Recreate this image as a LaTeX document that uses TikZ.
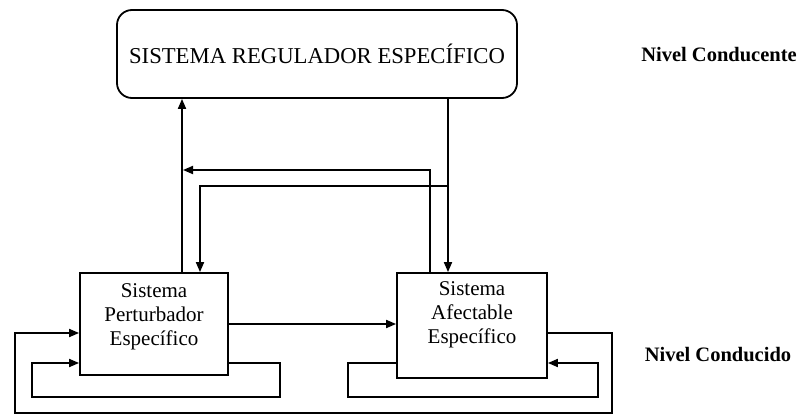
\documentclass[tikz,border=0pt]{standalone}
\usepackage{fontspec}
\setmainfont{Liberation Serif}
\usetikzlibrary{arrows.meta}
\begin{document}
\begin{tikzpicture}[x=1pt,y=-1pt,
  line width=1.8pt,
  arr/.style={-{Triangle[length=10pt,width=8pt]}},
  sysbox/.style={draw,rectangle,inner sep=0pt,align=center,font=\fontsize{21}{24}\selectfont},
  lvl/.style={font=\fontsize{20.5}{24}\selectfont\bfseries}]
\useasboundingbox (0,0) rectangle (803,415);
% nodes
\node[draw,rounded corners=15pt,minimum width=400pt,minimum height=88pt,inner sep=0pt,
  font=\fontsize{22.7}{26}\selectfont] (reg) at (317,54) {SISTEMA REGULADOR ESPECÍFICO};
\node[sysbox,minimum width=148pt,minimum height=102pt] (pert) at (154,324) {};
\node[align=center,font=\fontsize{21}{24}\selectfont] (pertt) at (154,317) {Sistema\\Perturbador\\Específico};
\node[sysbox,minimum width=150pt,minimum height=105pt] (afec) at (472,325.5) {};
\node[align=center,font=\fontsize{21}{24}\selectfont] (afect) at (472,315) {Sistema\\Afectable\\Específico};
\node[lvl] (nc1) at (719,55) {Nivel Conducente};
\node[lvl] (nc2) at (718,355) {Nivel Conducido};
% helper coordinates
\coordinate (x182) at (182,0);
\coordinate (x200) at (200,0);
\coordinate (x430) at (430,0);
\coordinate (x448) at (448,0);
\coordinate (j1) at (183,170);
\coordinate (j2) at (448,186);
\coordinate (o1) at (612,333);
\coordinate (o2) at (612,413);
\coordinate (o3) at (15,413);
\coordinate (o4) at (15,333);
\coordinate (p1) at (280,363);
\coordinate (p2) at (280,397);
\coordinate (p3) at (32,397);
\coordinate (p4) at (32,363);
\coordinate (q1) at (348,363);
\coordinate (q2) at (348,397);
\coordinate (q3) at (598,397);
\coordinate (q4) at (598,363);
% connectors
\draw[arr] (pert.north -| x182) -- (reg.south -| x182);
\draw[arr] (reg.south -| x448) -- (afec.north -| x448);
\draw[arr] (afec.north -| x430) |- (j1);
\draw[arr] (j2) -| (pert.north -| x200);
\draw[arr] (pert.east) -- (pert.east -| afec.west);
\draw[arr] (afec.east |- o1) -- (o1) -- (o2) -- (o3) -- (o4) -- (o4 -| pert.west);
\draw[arr] (pert.east |- p1) -- (p1) -- (p2) -- (p3) -- (p4) -- (p4 -| pert.west);
\draw[arr] (afec.west |- q1) -- (q1) -- (q2) -- (q3) -- (q4) -- (q4 -| afec.east);
\end{tikzpicture}
\end{document}
